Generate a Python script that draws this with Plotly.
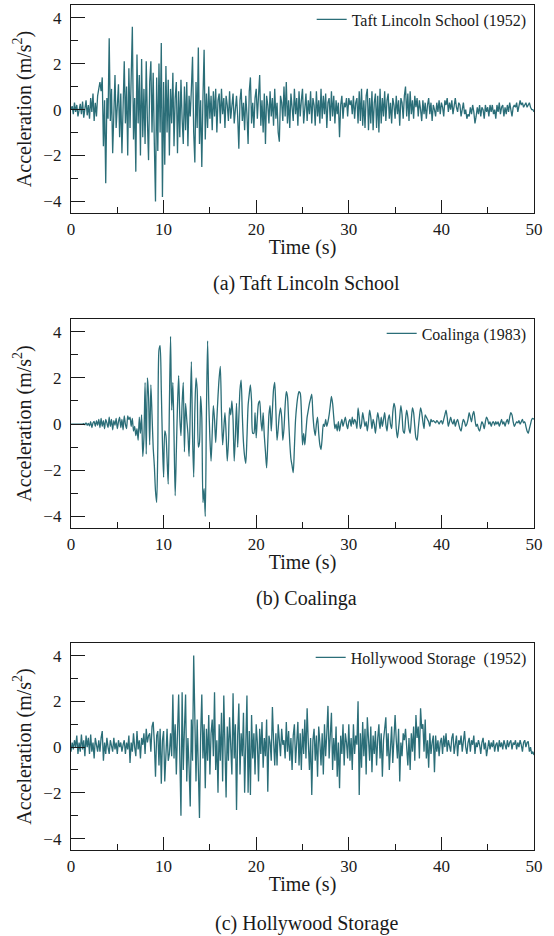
import plotly.graph_objects as go

# ---------------- data (m/s^2), sampled every 0.125 s from 0 to 50 s ----------------
dt = 0.125
taft = [
    0.0, 0.15, -0.2, 0.3, -0.1, 0.2, -0.3, 0.1,
    0.25, -0.2, 0.35, -0.35, 0.1, 0.4, -0.25, 0.2,
    -0.4, 0.5, -0.1, 0.7, -0.5, 0.3, -0.3, 0.6,
    0.9, 1.2, 0.8, 1.4, -1.6, 0.4, -3.2, 0.5,
    -0.4, 3.1, -0.5, 0.9, -1.9, 0.6, 1.5, -0.8,
    0.3, 1.1, -1.2, 0.7, -1.9, 0.5, 2.1, -0.6,
    1.0, -2.0, 1.8, -0.8, 0.9, 3.6, -1.3, 0.5,
    -2.7, 2.4, -0.6, 1.5, -2.0, 2.2, -1.2, 0.9,
    -1.5, 2.1, -0.5, -2.2, 1.2, 2.1, -1.0, 1.6,
    -1.5, -4.0, 1.4, -1.8, 2.0, -1.0, 2.9, -3.8,
    1.2, -2.4, 1.9, -1.0, 1.3, -2.0, 0.9, -0.6,
    1.6, -1.6, 0.5, 1.2, -1.9, 0.8, -1.2, 1.3,
    -0.4, -1.5, 1.0, -0.9, 1.2, -1.6, 0.6, -0.3,
    0.9, 2.3, -1.0, -2.3, 1.2, -0.8, 2.7, -1.5,
    0.4, -2.5, 0.5, 2.6, -1.3, 0.7, -0.8, 1.0,
    -0.4, 0.6, -0.9, 0.8, -0.3, 0.9, -1.0, 0.4,
    0.7, -0.6, 0.9, -0.2, 0.5, -0.8, 0.6, 0.2,
    -0.5, 0.8, -0.4, 0.3, 0.7, -0.6, 0.2, 0.6,
    -0.3, -1.7, 0.4, 0.9, -0.5, 0.3, -0.9, 0.6,
    -0.2, -1.5, 0.8, 1.4, -0.6, 0.3, -0.8, 0.5,
    0.9, -0.4, 0.6, 1.5, -0.7, 0.4, -1.0, 0.7,
    -1.5, 0.6, 0.2, -0.6, 0.8, -0.3, 0.5, -0.7,
    0.9, -0.4, 0.3, -1.0, -1.4, 0.6, 0.3, -0.5,
    1.0, -0.3, 1.2, -0.6, 0.4, -0.8, 0.7, 0.1,
    -0.5, 0.9, -0.2, 0.5, -0.7, 0.8, -0.3, 0.4,
    0.9, -0.6, 0.3, 0.7, -0.5, 0.4, -0.2, 0.8,
    -0.6, 0.5, 0.2, -0.7, 0.8, -0.3, 0.4, -0.6,
    0.9, -0.4, 0.6, -0.2, 0.7, -0.8, 0.3, 0.5,
    -0.5, 0.8, -0.3, 0.6, -0.6, 0.4, -0.2, 0.3,
    -1.2, 0.2, 0.6, -0.4, 0.3, 0.1, 0.5, -0.3,
    0.5, 0.2, 0.4, -0.2, 0.6, -0.4, 0.3, 0.5,
    -0.6, 0.8, -0.5, 0.9, -0.7, 0.4, -0.8, 0.6,
    0.9, -0.9, 0.5, -0.6, 0.8, -0.9, 0.3, 0.7,
    -0.8, 0.6, -1.0, 0.9, -0.6, 0.5, -0.3, 0.8,
    -0.5, 0.4, 0.7, -0.4, 0.3, -0.6, 0.5, 0.2,
    -0.4, 0.6, -0.2, 0.4, -0.7, 0.5, 0.3, -0.4,
    0.6, 1.0, -0.3, 0.7, -0.5, 0.8, -0.2, 0.4,
    -0.4, 0.6, 0.1, 0.5, -0.3, 0.4, 0.0, -0.5,
    0.4, -0.2, 0.3, -0.4, 0.2, 0.5, -0.2, 0.3,
    -0.5, 0.2, 0.0, -0.3, 0.3, -0.1, 0.4, -0.2,
    0.3, 0.1, -0.3, 0.4, 0.2, 0.5, -0.1, 0.3,
    0.0, 0.4, -0.2, 0.2, 0.5, 0.1, -0.1, 0.3,
    0.2, -0.3, 0.1, 0.3, -0.2, 0.0, -0.4, -0.2,
    -0.3, 0.1, -0.2, 0.2, -0.1, -0.6, -0.3, 0.1,
    -0.2, 0.2, -0.3, 0.1, 0.0, -0.4, 0.2, -0.1,
    0.1, -0.3, 0.2, -0.1, 0.2, -0.2, 0.0, -0.4,
    0.2, -0.1, 0.3, -0.2, 0.1, 0.2, -0.3, 0.1,
    -0.2, 0.2, -0.1, 0.3, 0.0, -0.3, 0.1, 0.2,
    0.1, 0.3, -0.1, 0.2, 0.4, 0.2, 0.3, 0.1,
    0.2, 0.3, 0.1, 0.2, 0.3, 0.1, 0.0, 0.0,
    -0.1,
]

coalinga = [
    0, 0, 0, 0, 0, 0, 0, 0,
    0, 0, 0, 0.02, -0.03, 0.05, -0.05, 0.03,
    -0.08, 0.1, -0.15, 0.05, 0.12, -0.1, 0.15, -0.05,
    0.2, -0.15, 0.25, -0.1, 0.15, -0.2, 0.2, 0.05,
    -0.15, 0.3, -0.1, 0.2, -0.25, 0.15, -0.05, 0.25,
    -0.2, 0.1, 0.3, -0.15, 0.2, -0.25, 0.35, 0.0,
    -0.2, 0.35, 0.2, 0.3, -0.1, 0.25, -0.3, -0.1,
    -0.5, -0.2, -0.7, 0.3, -0.4, 0.4, -1.4, -0.6,
    1.8, -1.3, 2.0, 1.2, -0.9, 1.7, 0.4, -1.0,
    -1.8, -2.9, -3.4, -1.0, 3.2, 3.4, 1.5, -0.8,
    -2.3, -0.3, -0.5, -1.5, -2.6, 0.8, 3.8, 0.6,
    1.8, -0.5, -3.1, -1.2, 0.8, 2.1, 0.3, -0.5,
    0.9, 1.8, -1.2, 0.9, 0.2, -0.4, -1.4, 0.5,
    2.7, -0.5, -2.3, 0.6, 2.0, 1.5, -1.0, -0.8,
    1.2, 0.3, -3.4, -2.8, -4.0, 0.5, 3.6, 1.0,
    -0.6, -1.6, -0.4, 0.8, 0.2, -0.8, 0.2, 1.2,
    2.0, 2.5, 0.5, -0.9, -0.2, 0.5, -0.4, -1.6,
    -0.8, 0.7, 0.4, 1.0, 0.2, -1.6, -0.5, 0.9,
    -1.0, 0.3, 1.5, 1.9, 0.4, -0.8, -1.4, -1.7,
    -0.6, 0.8, 1.3, 1.7, 1.0, -0.4, -0.4, 0.5,
    -0.6, 0.3, 0.9, 1.0, 0.2, -0.3, 0.5, -0.5,
    -1.2, -1.9, -0.8, 0.4, 0.8, -0.3, 0.6, 1.5,
    1.8, 0.6, -0.7, -0.2, 0.4, 0.7, 0.3, -0.7,
    -0.2, 0.8, 1.4, 1.2, 0.2, -0.8, -1.5, -1.8,
    -2.1, -1.0, 0.2, 0.8, 1.2, 1.4, 1.35, 0.6,
    -0.9, -0.4, -0.9, -0.3, 0.3, 0.6, 0.9, 1.1,
    1.3, 0.4, -0.2, -0.5, 0.0, 0.3, -0.4, -0.9,
    -1.1, -0.6, 0.0, -0.1, 0.2, -0.1, 0.1, 0.4,
    0.8, 1.2, 0.9, 0.3, -0.2, 0.0, -0.3, 0.1,
    -0.3, 0.0, 0.2, -0.1, 0.1, 0.3, 0.0, -0.2,
    0.1, 0.2, -0.1, 0.3, 0.0, 0.2, 0.1, -0.2,
    0.7, 0.3, -0.2, 0.0, 0.5, 0.2, -0.1, 0.1,
    -0.3, 0.1, 0.6, 0.3, -0.2, 0.2, 0.0, -0.4,
    0.1, 0.5, 0.2, -0.2, 0.3, -0.1, 0.2, 0.5,
    0.0, -0.3, 0.2, 0.4, 0.0, -0.2, 0.5, 0.9,
    0.7, -0.2, -0.6, -0.2, 0.3, 0.8, 0.4, -0.3,
    -0.4, 0.2, 0.6, 0.3, -0.2, -0.4, 0.2, 0.7,
    0.5, -0.1, -0.6, -0.7, -0.2, 0.3, 0.7, 0.5,
    0.1, -0.2, 0.4, 0.3, 0.2, 0.1, -0.1, 0.2,
    0.1, 0.15, 0.1, 0.05, 0.15, 0.1, 0.0, 0.1,
    0.15, 0.0, 0.2, 0.4, 0.6, 0.3, -0.1, 0.1,
    0.3, 0.1, 0.0, 0.2, -0.1, 0.1, 0.2, 0.0,
    -0.2, -0.3, 0.0, 0.2, 0.1, -0.1, 0.0, 0.2,
    0.5, 0.3, 0.1, 0.4, 0.55, 0.2, -0.1, 0.0,
    -0.2, -0.3, -0.1, 0.1, 0.0, -0.2, 0.1, 0.3,
    0.2, 0.0, 0.1, -0.1, 0.05, 0.1, -0.05, 0.1,
    0.0, 0.1, -0.1, 0.05, 0.2, 0.0, 0.1, -0.1,
    0.1, 0.2, 0.0, 0.3, 0.5, 0.4, 0.1, -0.1,
    0.0, 0.1, 0.05, 0.15, 0.0, 0.1, 0.2, 0.05,
    0.1, -0.1, -0.3, -0.4, -0.2, 0.0, 0.2, 0.25,
    0.2,
]

hollywood = [
    -0.2, 0.2, -0.1, 0.3, 0.0, 0.5, -0.3, 0.2,
    -0.2, 0.55, -0.1, 0.3, -0.4, 0.5, 0.0, 0.4,
    -0.3, 0.55, -0.2, 0.2, -0.5, 0.4, 0.1, -0.2,
    0.3, -0.2, 0.4, 0.7, -0.6, 0.2, -0.3, 0.4,
    0.0, -0.3, 0.3, 0.1, -0.2, 0.4, -0.1, 0.2,
    -0.3, 0.3, 0.0, 0.2, -0.2, 0.1, 0.3, -0.3,
    0.2, -0.1, 0.5, -0.7, 0.2, -0.2, 0.6, 0.0,
    -0.4, 0.7, -0.1, 0.3, -0.5, 0.4, 0.1, 0.6,
    -0.3, 0.8, 0.2, 0.5, 0.6, -0.2, 0.9, 1.1,
    0.2, -1.3, 0.5, 0.7, -0.8, 0.8, -1.6, 0.3,
    0.7, -1.5, -0.2, 0.8, -0.6, -0.3, 0.6, -0.4,
    2.3, -0.5, 1.0, -1.2, 0.6, 2.3, -0.4, -3.0,
    2.4, -1.0, 0.8, 2.3, -1.5, 0.4, -0.9, -2.6,
    1.2, -0.6, 4.0, 0.2, -1.5, 1.2, -0.8, -3.1,
    0.5, 2.3, -0.5, 1.0, -1.8, 0.8, -0.6, 1.4,
    -1.2, 0.6, 1.2, -0.4, 2.4, -1.0, 0.3, -2.0,
    1.0, -0.6, 1.5, -1.5, 2.25, -0.8, -2.2, 0.9,
    -0.6, 1.3, 0.2, -1.2, 2.35, -0.5, 1.0, -2.75,
    0.5, 1.9, -1.2, 0.6, -0.4, 1.5, -2.0, 0.4,
    2.25, -2.0, 0.7, -2.1, 1.4, -0.5, 0.6, -1.2,
    1.0, 0.2, -1.5, 0.8, -0.3, 1.1, -0.9, 0.4,
    -0.4, 1.2, -1.95, 0.5, 0.2, -0.6, 1.75, 0.3,
    -0.8, 0.6, -0.8, 1.0, 0.3, -0.4, 0.8, 0.1,
    0.3, -0.5, 1.1, -0.2, 0.7, -0.6, 0.4, -1.0,
    0.5, 1.0, -0.7, 0.3, 1.1, -0.8, 0.6, -1.0,
    0.8, -0.3, 1.2, -0.5, 1.7, 0.2, -1.0, 0.4,
    -2.1, 0.3, 0.8, -0.6, 0.5, -1.3, 0.9, 0.2,
    -0.8, 0.6, -1.2, 1.0, -0.4, 0.6, 1.8, -0.5,
    0.8, 1.5, -1.0, 0.4, -0.6, 0.9, -1.3, 0.2,
    -1.8, 0.5, -0.3, 1.0, -0.8, 0.6, 0.2, -0.5,
    1.0, -0.6, 0.4, -1.0, 1.0, -0.3, 0.5, 0.1,
    2.0, -2.1, 0.6, -0.9, 1.1, -0.4, 0.8, -1.2,
    1.3, 0.2, -0.6, 0.9, -1.1, 0.5, -0.3, 0.7,
    -0.8, 0.4, 1.0, -0.5, 0.6, -1.3, 0.3, 0.8,
    1.3, -0.4, 0.6, -1.0, 0.2, 0.9, -0.7, 0.5,
    1.4, 0.3, -0.5, 0.8, -1.5, 0.2, -0.4, 0.6,
    0.3, 0.8, -0.3, -0.8, 0.4, -1.0, 0.6, -0.2,
    0.9, -0.6, 1.4, 0.4, 0.9, -0.5, 1.7, 0.8,
    1.0, -0.2, 1.2, -0.5, 0.3, -0.9, 0.6, -0.3,
    0.2, 0.5, -1.1, 0.5, -0.2, 0.3, -0.4, 0.2,
    0.4, -0.3, 0.5, 0.0, 0.6, -0.2, 0.3, 0.1,
    -0.2, 0.4, 0.6, -0.3, 0.2, 0.5, -0.4, 0.3,
    0.1, 0.5, -0.2, 0.3, 0.7, 0.0, -0.3, 0.2,
    0.4, -0.2, 0.3, 0.1, 0.5, -0.3, 0.2, 0.0,
    0.3, 0.1, -0.3, 0.2, 0.4, -0.1, 0.2, -0.4,
    0.1, 0.3, -0.1, 0.2, 0.0, 0.3, -0.2, 0.1,
    0.2, -0.2, 0.3, 0.0, 0.2, -0.1, 0.3, 0.1,
    -0.1, 0.3, 0.0, 0.2, 0.3, -0.1, 0.2, 0.1,
    0.3, -0.1, 0.2, 0.0, 0.3, 0.1, -0.2, 0.2,
    0.3, 0.0, 0.2, 0.25, -0.2, 0.0, -0.3, -0.2,
    -0.35,
]

series_names = ["Taft Lincoln School (1952)", "Coalinga (1983)", "Hollywood Storage  (1952)"]
captions = ["(a) Taft Lincoln School", "(b) Coalinga", "(c) Hollywood Storage"]
x_ticks = [0, 10, 20, 30, 40, 50]
y_ticks = [-4, -2, 0, 2, 4]

# ---------------- figure ----------------
W, H = 554, 936
ML, MR, MT, MB = 71, 20, 5, 86
PH = H - MT - MB

def frac(py):
    return (H - MB - py) / PH

domains = [(frac(213), 1.0), (frac(528), frac(319)), (0.0, frac(643))]
caption_y = [frac(283), frac(598), frac(923)]

LINE = "#2b6e78"
FONT = "Liberation Serif"
INK = "#1a1a1a"
data_sets = [taft, coalinga, hollywood]

fig = go.Figure()
for i, vals in enumerate(data_sets):
    t = [k * dt for k in range(len(vals))]
    n = "" if i == 0 else str(i + 1)
    fig.add_trace(go.Scatter(
        x=t, y=vals, mode="lines", name=series_names[i],
        line=dict(color=LINE, width=1.3,
                  shape="spline" if i == 1 else "linear", smoothing=0.7),
        xaxis="x" + n, yaxis="y" + n, legend="legend" + n,
        showlegend=True,
    ))
    axis_common = dict(showline=True, linecolor=INK, linewidth=1.3, mirror=True,
                       showgrid=False, zeroline=False, ticks="inside",
                       tickcolor=INK, tickwidth=1.3,
                       tickfont=dict(family=FONT, size=17, color=INK))
    fig.layout["xaxis" + n] = dict(
        axis_common, domain=[0, 1], range=[0, 50], tickvals=x_ticks, ticklen=13,
        minor=dict(dtick=5, tick0=0, ticks="inside", ticklen=6, tickcolor=INK, tickwidth=1.3),
        anchor="y" + n,
        title=dict(text="Time (s)", font=dict(family=FONT, size=20, color=INK), standoff=2),
    )
    fig.layout["yaxis" + n] = dict(
        axis_common, domain=list(domains[i]), range=[-4.5, 4.55], tickvals=y_ticks, ticklen=14,
        ticklabelstandoff=5,
        minor=dict(dtick=1, tick0=0, ticks="inside", ticklen=7, tickcolor=INK, tickwidth=1.3),
        anchor="x" + n,
        title=dict(text="Acceleration (m/s<sup>2</sup>)", font=dict(family=FONT, size=20, color=INK), standoff=6),
    )
    fig.layout["legend" + n] = dict(
        x=0.995, y=domains[i][1] + 0.003, xanchor="right", yanchor="top",
        bgcolor="rgba(0,0,0,0)", font=dict(family=FONT, size=16, color=INK),
        tracegroupgap=0, itemwidth=30,
    )
    fig.add_annotation(text=captions[i], xref="paper", yref="paper", x=0.508, y=caption_y[i],
                       showarrow=False, xanchor="center", yanchor="middle",
                       font=dict(family=FONT, size=20, color=INK))

fig.update_layout(
    width=W, height=H, margin=dict(l=ML, r=MR, t=MT, b=MB, autoexpand=False),
    paper_bgcolor="white", plot_bgcolor="white",
    font=dict(family=FONT, color=INK),
)

fig.write_html("out.html", config={"displayModeBar": False},
               post_script="document.body.style.margin='0';")
